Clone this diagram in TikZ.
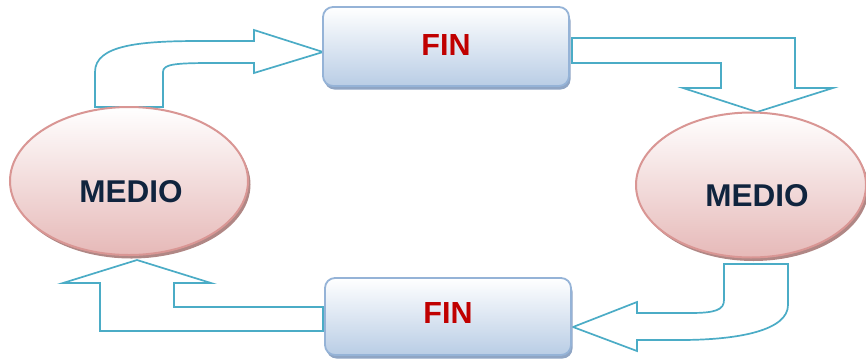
\documentclass[tikz,border=0pt]{standalone}
\usepackage{fontspec}
\setmainfont{Liberation Sans}
\usetikzlibrary{shapes.geometric,shadows}
\definecolor{arrowblue}{HTML}{4BACC6}
\definecolor{boxedge}{HTML}{95B3D7}
\definecolor{boxfill}{HTML}{B9CDE5}
\definecolor{boxshadow}{HTML}{8FA5C4}
\definecolor{ovaledge}{HTML}{D99694}
\definecolor{ovalfill}{HTML}{E6B9B8}
\definecolor{ovalshadow}{HTML}{B08785}
\definecolor{finred}{HTML}{C00000}
\definecolor{medionavy}{HTML}{10243E}
\tikzset{
  finbox/.style={rectangle, rounded corners=10pt, draw=boxedge, line width=1.8pt,
    top color=white, bottom color=boxfill, minimum width=246pt, minimum height=79pt,
    drop shadow={shadow xshift=1.5pt, shadow yshift=-3.5pt, fill=boxshadow, opacity=1},
    font=\fontsize{30.5}{34}\selectfont\bfseries, text=finred, inner sep=0pt},
  oval/.style={ellipse, draw=ovaledge, line width=2pt,
    top color=white, bottom color=ovalfill, inner sep=0pt,
    drop shadow={shadow xshift=2.5pt, shadow yshift=-3.5pt, fill=ovalshadow, opacity=1}},
  ovaltext/.style={font=\fontsize{31.5}{34}\selectfont\bfseries, text=medionavy, inner sep=0pt},
  blockarrow/.style={draw=arrowblue, line width=1.7pt, fill=white, line join=miter}
}
\begin{document}
\begin{tikzpicture}[x=1pt, y=-1pt]
\useasboundingbox (0,0) rectangle (866,362);

% block arrows between the stages
\draw[blockarrow] (95,107) -- (95,72) .. controls (95,45) and (140,41) .. (200,41)
  -- (254,41) -- (254,30) -- (323,52) -- (254,73) -- (254,63) -- (215,63)
  .. controls (175,63) and (163,64) .. (163,72) -- (163,107) -- cycle;
\draw[blockarrow] (572,38) -- (795,38) -- (795,88) -- (833,88) -- (757,112)
  -- (683,88) -- (721,88) -- (721,63) -- (572,63) -- cycle;
\draw[blockarrow] (724,264) -- (788,264) -- (788,305)
  .. controls (788,330) and (740,340) .. (680,340) -- (637,340) -- (637,351)
  -- (573,327) -- (637,302) -- (637,313) -- (690,313)
  .. controls (715,313) and (724,310) .. (724,300) -- cycle;
\draw[blockarrow] (137,260) -- (211,283) -- (174,283) -- (174,307) -- (323,307)
  -- (323,331) -- (100,331) -- (100,283) -- (63,283) -- cycle;

% stages
\node[finbox] (fintop) at (446,46.5) {\raisebox{3pt}{FIN}};
\node[finbox, minimum height=77pt] (finbot) at (448,316.5) {\raisebox{7pt}{FIN}};
\node[oval, minimum width=238pt, minimum height=148pt] (medioleft) at (129,181) {};
\node[oval, minimum width=230pt, minimum height=145pt] (medioright) at (751,185) {};
\node[ovaltext] (lefttext) at (131,192) {MEDIO};
\node[ovaltext] (righttext) at (757,196) {MEDIO};
\end{tikzpicture}
\end{document}
